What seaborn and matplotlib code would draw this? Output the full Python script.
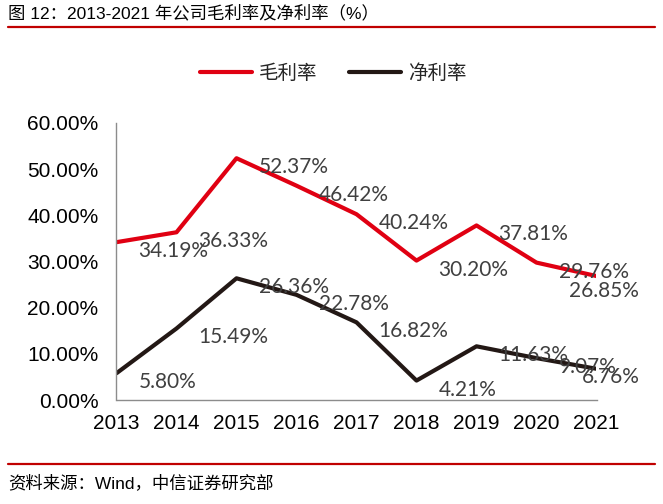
import pandas as pd
import matplotlib
matplotlib.use("Agg")
import matplotlib.pyplot as plt
from matplotlib.lines import Line2D
from matplotlib.ticker import PercentFormatter
import seaborn as sns

years = [2013, 2014, 2015, 2016, 2017, 2018, 2019, 2020, 2021]
gross_margin = [34.19, 36.33, 52.37, 46.42, 40.24, 30.20, 37.81, 29.76, 26.85]
net_margin = [5.80, 15.49, 26.36, 22.78, 16.82, 4.21, 11.63, 9.07, 6.76]
series_names = ["毛利率", "净利率"]
RED = "#E00012"
BLACK = "#231815"
RULE = "#C00000"
AXIS_GRAY = "#8C8C8C"

df = pd.DataFrame({
    "year": years * 2,
    "value": gross_margin + net_margin,
    "series": [series_names[0]] * len(years) + [series_names[1]] * len(years),
})

sns.set_style("white")
plt.rcParams["font.family"] = ["Liberation Sans", "Noto Sans CJK SC", "DejaVu Sans"]

fig = plt.figure(figsize=(6.63, 5.04), dpi=100)
ax = fig.add_axes([116.5 / 663, 1 - 400 / 504, (596.5 - 116.5) / 663, (400 - 123) / 504])

sns.lineplot(data=df, x="year", y="value", hue="series", hue_order=series_names,
             palette=[RED, BLACK], linewidth=3.0, ax=ax, legend=False)

# labels sit right of each point; the last one is pulled back inside (like Excel)
for vals, last_off in ((gross_margin, (-27, -15)), (net_margin, (-15, -8))):
    for i, (x, v) in enumerate(zip(years, vals)):
        off = last_off if i == len(years) - 1 else (22, -9)
        ax.annotate(f"{v:.2f}%", (x, v), xytext=off, textcoords="offset pixels",
                    ha="left", va="center", fontsize=15, color="#404040",
                    family=["Lato", "DejaVu Sans"], annotation_clip=False)

ax.set_xlim(2013, 2021)
ax.set_ylim(0, 60)
ax.set_xticks(years)
ax.set_yticks(range(0, 61, 10))
ax.yaxis.set_major_formatter(PercentFormatter(decimals=2))
ax.set_xlabel("")
ax.set_ylabel("")
for side in ("top", "right"):
    ax.spines[side].set_visible(False)
for side in ("left", "bottom"):
    ax.spines[side].set_color(AXIS_GRAY)
    ax.spines[side].set_linewidth(1.0)
ax.tick_params(axis="both", direction="out", length=5, width=1, color=AXIS_GRAY,
               labelsize=15, labelcolor="black")
ax.tick_params(axis="y", pad=8)
ax.tick_params(axis="x", pad=5)
ax.grid(False)

handles = [Line2D([], [], color=RED, linewidth=3.0),
           Line2D([], [], color=BLACK, linewidth=3.0)]
fig.legend(handles, series_names, loc="center", bbox_to_anchor=(333 / 663, 1 - 73 / 504),
           ncol=2, frameon=False, handlelength=2.7, handletextpad=0.35,
           columnspacing=1.6, prop={"family": ["Noto Sans CJK SC"], "size": 14})

fig.text(8 / 663, 1 - 13 / 504, "图 12：2013-2021 年公司毛利率及净利率（%）", ha="left", va="center",
         fontsize=12.5, color="black")
fig.add_artist(Line2D([8 / 663, 655 / 663], [1 - 26.5 / 504] * 2, color=RULE, linewidth=1.6))
fig.add_artist(Line2D([8 / 663, 655 / 663], [1 - 464 / 504] * 2, color=RULE, linewidth=1.6))
fig.text(8 / 663, 1 - 483 / 504, "资料来源：Wind，中信证券研究部", ha="left", va="center",
         fontsize=12.5, color="black")

fig.savefig("out.png", dpi=100)
